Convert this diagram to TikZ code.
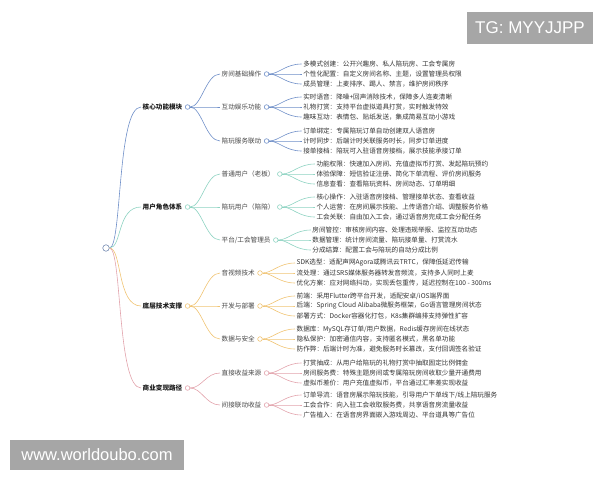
\documentclass[tikz,border=0pt]{standalone}
\usepackage{fontspec}
\setmainfont{Noto Sans CJK SC}
\newfontfamily\wmfont{Liberation Sans}
\usetikzlibrary{positioning, calc}
\definecolor{coreline}{HTML}{6F8FC8}
\definecolor{roleline}{HTML}{8ED3C2}
\definecolor{techline}{HTML}{F0C474}
\definecolor{bizline}{HTML}{E2A3AC}
\definecolor{ink}{HTML}{333333}
\definecolor{stampgray}{HTML}{A6A6A6}
\newcommand*{\mapfont}{\fontsize{6.6}{8}\selectfont}
\tikzstyle{topic} = [font=\mapfont\bfseries, text=black!90, inner sep=1.5pt, anchor=west]
\tikzstyle{sub} = [font=\mapfont, text=black!72, inner sep=1.5pt, anchor=west]
\tikzstyle{leaf} = [font=\mapfont, text=ink, inner sep=1.5pt, anchor=west]
\tikzstyle{knob} = [circle, draw, fill=white, minimum size=4.6pt, inner sep=0pt, line width=0.6pt]
\tikzstyle{link} = [line width=0.6pt]
\tikzstyle{stamp} = [fill=stampgray, text=white, inner sep=0pt, font=\wmfont\fontsize{16.5}{20}\selectfont]

\begin{document}
\begin{tikzpicture}[x=1pt, y=-1pt]
    \useasboundingbox (0,0) rectangle (600,480);
    \node (root) [knob, minimum size=6.5pt, draw=coreline!70!gray] at (106,248) {};

    % Topics.
    \foreach \n/\y/\t in {core/107/核心功能模块, role/207/用户角色体系, tech/306/底层技术支撑, biz/388/商业变现路径} {%
        \node (\n) [topic] at (141,\y) {\t};
        \node (knob \n) [knob, draw=\n line, right=1pt of \n] {};
        \draw [link, \n line] (root) .. controls +(16,0) and +(-24,0) .. (\n.west);
    }

    % Sub topics.
    \foreach \p/\n/\y/\t in {core/room/74/房间基础操作, core/fun/107/互动娱乐功能, core/play/141/陪玩服务联动,
        role/boss/174/普通用户（老板）, role/mate/207/陪玩用户（陪陪）, role/admin/240/{平台/工会管理员},
        tech/av/273/音视频技术, tech/dev/306/开发与部署, tech/data/339/数据与安全,
        biz/direct/373/直接收益来源, biz/indirect/405/间接联动收益} {%
        \node (\n) [sub] at (220,\y) {\t};
        \node (knob \n) [knob, draw=\p line, right=1pt of \n] {};
        \draw [link, \p line] (knob \p) .. controls +(14,0) and +(-14,0) .. (\n.west);
    }

    % Leaves.
    \foreach \s/\p/\k/\t in {%
        room/core/1/多模式创建：公开兴趣房、私人陪玩房、工会专属房,
        room/core/2/个性化配置：自定义房间名称、主题，设置管理员权限,
        room/core/3/成员管理：上麦排序、踢人、禁言，维护房间秩序,
        fun/core/1/实时语音：降噪+回声消除技术，保障多人连麦清晰,
        fun/core/2/礼物打赏：支持平台虚拟道具打赏，实时触发特效,
        fun/core/3/趣味互动：表情包、贴纸发送，集成简易互动小游戏,
        play/core/1/订单绑定：专属陪玩订单自动创建双人语音房,
        play/core/2/计时同步：后端计时关联服务时长，同步订单进度,
        play/core/3/接单接档：陪玩可入驻语音房接档，展示技能承接订单,
        boss/role/1/功能权限：快速加入房间、充值虚拟币打赏、发起陪玩预约,
        boss/role/2/体验保障：短信验证注册、简化下单流程、评价房间服务,
        boss/role/3/信息查看：查看陪玩资料、房间动态、订单明细,
        mate/role/1/核心操作：入驻语音房接档、管理接单状态、查看收益,
        mate/role/2/个人运营：在房间展示技能、上传语音介绍、调整服务价格,
        mate/role/3/工会关联：自由加入工会，通过语音房完成工会分配任务,
        admin/role/1/房间管控：审核房间内容、处理违规举报、监控互动动态,
        admin/role/2/数据管理：统计房间流量、陪玩接单量、打赏流水,
        admin/role/3/分成结算：配置工会与陪玩的自动分成比例,
        av/tech/1/SDK选型：适配声网Agora或腾讯云TRTC，保障低延迟传输,
        av/tech/2/流处理：通过SRS媒体服务器转发音频流，支持多人同时上麦,
        av/tech/3/优化方案：应对网络抖动，实现丢包重传，延迟控制在100 - 300ms,
        dev/tech/1/{前端：采用Flutter跨平台开发，适配安卓/iOS端界面},
        dev/tech/2/后端：Spring Cloud Alibaba微服务框架，Go语言管理房间状态,
        dev/tech/3/部署方式：Docker容器化打包，K8s集群编排支持弹性扩容,
        data/tech/1/{数据库：MySQL存订单/用户数据，Redis缓存房间在线状态},
        data/tech/2/隐私保护：加密通信内容，支持匿名模式，黑名单功能,
        data/tech/3/防作弊：后端计时为准，避免服务时长篡改，支付回调签名验证,
        direct/biz/1/打赏抽成：从用户给陪玩的礼物打赏中抽取固定比例佣金,
        direct/biz/2/房间服务费：特殊主题房间或专属陪玩房间收取少量开通费用,
        direct/biz/3/虚拟币差价：用户充值虚拟币，平台通过汇率差实现收益,
        indirect/biz/1/{订单导流：语音房展示陪玩技能，引导用户下单线下/线上陪玩服务},
        indirect/biz/2/工会合作：向入驻工会收取服务费，共享语音房流量收益,
        indirect/biz/3/广告植入：在语音房界面嵌入游戏周边、平台道具等广告位} {%
        \node (\s \k) [leaf] at ($(knob \s)+(35,{10*(\k-2)})$) {\t};
        \draw [link, \p line] (knob \s) .. controls +(12,0) and +(-16,0) .. (\s \k.west);
    }

    % Watermarks.
    \node (tg) [stamp, minimum width=126pt, minimum height=32pt, font=\wmfont\fontsize{17}{20}\selectfont] at (530,28) {TG: MYYJJPP};
    \node (site) [stamp, minimum width=174pt, minimum height=30pt] at (97,455) {www.worldoubo.com};
\end{tikzpicture}
\end{document}
